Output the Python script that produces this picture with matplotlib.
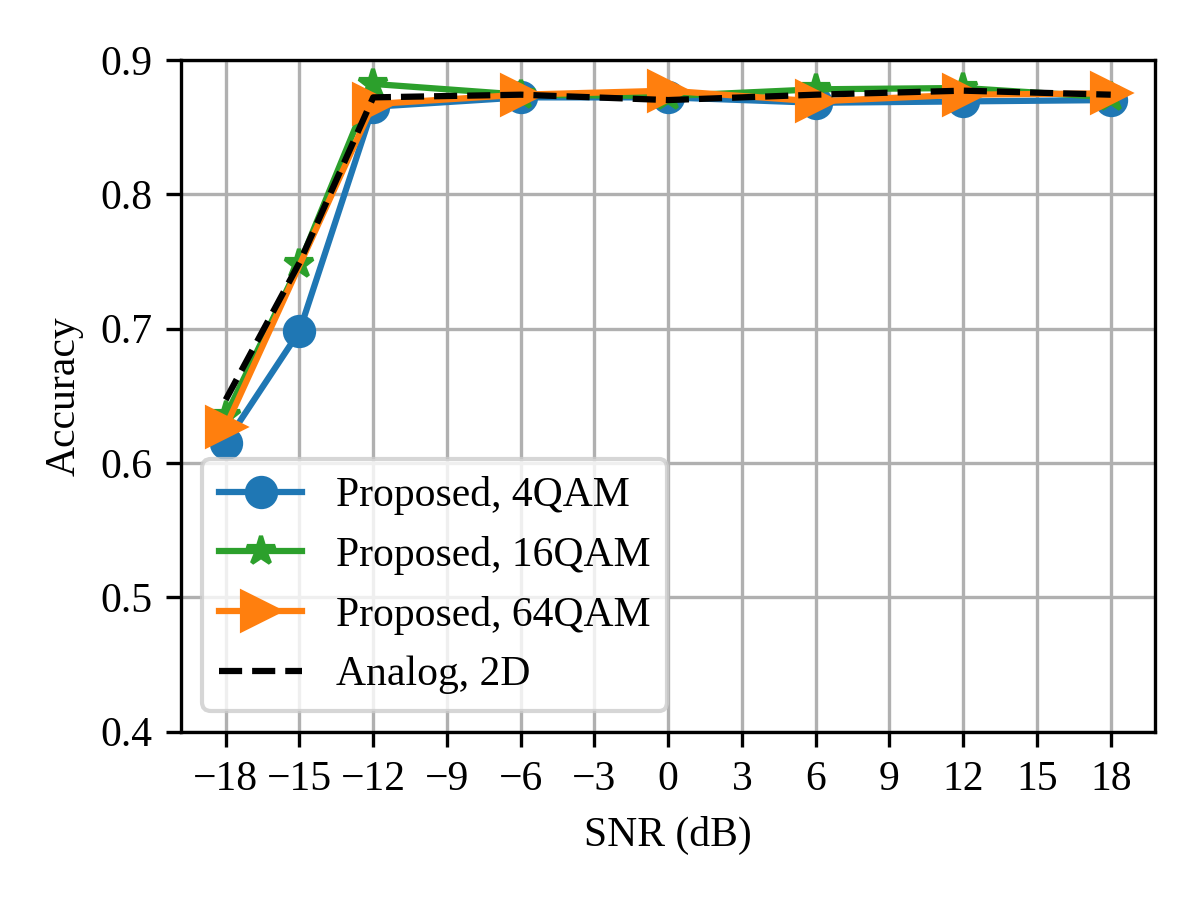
import matplotlib
matplotlib.use('Agg')
import matplotlib.pyplot as plt

plt.rcParams['font.family'] = ['Liberation Serif', 'DejaVu Serif']
plt.rcParams['mathtext.fontset'] = 'stix'

snr = [-18, -15, -12, -6, 0, 6, 12, 18]
acc_4qam = [0.615, 0.698, 0.865, 0.872, 0.872, 0.868, 0.869, 0.870]
acc_16qam = [0.635, 0.748, 0.882, 0.874, 0.873, 0.878, 0.879, 0.872]
# 64QAM has no point at -15 dB
snr_64 = [-18, -12, -6, 0, 6, 12, 18]
acc_64qam = [0.627, 0.867, 0.874, 0.877, 0.869, 0.874, 0.875]
acc_analog = [0.647, 0.749, 0.872, 0.874, 0.870, 0.874, 0.877, 0.874]

xticks = list(range(-18, 19, 3))

fig, ax = plt.subplots(figsize=(4, 3), dpi=300)
ax.plot(snr, acc_4qam, label='Proposed, 4QAM', c='tab:blue', marker='o', markersize=7)
ax.plot(snr, acc_16qam, label='Proposed, 16QAM', c='tab:green', marker='*', markersize=7)
ax.plot(snr_64, acc_64qam, label='Proposed, 64QAM', c='tab:orange', marker='>', markersize=9)
ax.plot(snr, acc_analog, label='Analog, 2D', c='k', linestyle='--', linewidth=1.5)

ax.set_xticks(xticks)
ax.set_xticklabels([str(t).replace('-', '\u2212') for t in xticks])
ax.set_ylim(0.4, 0.9)
ax.set_xlabel('SNR (dB)')
ax.set_ylabel('Accuracy')
ax.grid(True)
ax.legend(loc='lower left')

plt.tight_layout()
plt.savefig('out.png')
